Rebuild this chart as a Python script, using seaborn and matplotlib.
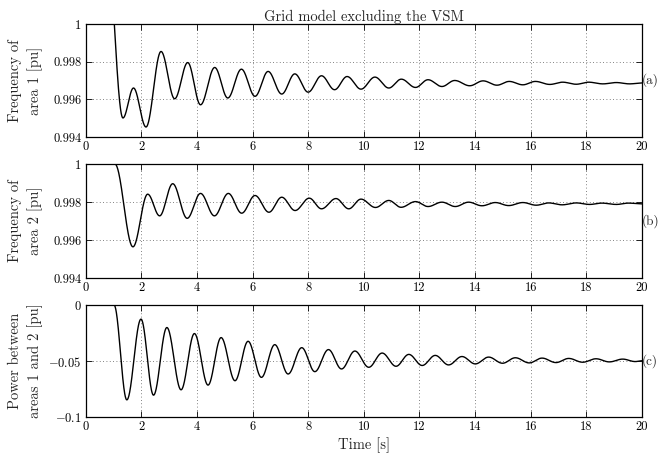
import numpy as np
import pandas as pd
import matplotlib
matplotlib.use("Agg")
import matplotlib.pyplot as plt
import seaborn as sns

# Turning points (time [s], value) of each trace
t_a = [0, 1.03, 1.34, 1.72, 2.17, 2.71, 3.20, 3.67, 4.13, 4.64, 5.11, 5.60,
       6.09, 6.56, 7.05, 7.52, 8.00, 8.48, 8.95, 9.40, 9.90, 10.40,
       10.90, 11.35, 11.86, 12.31, 12.81, 13.27, 13.81, 14.29, 14.79, 15.23,
       15.72, 16.17, 16.69, 17.15, 17.64, 18.08, 18.60, 19.08, 19.56, 20.0]
f_a = [1.0, 1.0, 0.99501, 0.99660, 0.99453, 0.99854, 0.99603, 0.99795, 0.99571, 0.99769, 0.99607, 0.99760,
       0.99616, 0.99748, 0.99628, 0.99735, 0.99638, 0.99725, 0.99651, 0.99721, 0.99654, 0.99718,
       0.99660, 0.99707, 0.99663, 0.99704, 0.99668, 0.99700, 0.99672, 0.99698, 0.99675, 0.99695,
       0.99677, 0.99695, 0.99679, 0.99691, 0.99680, 0.99691, 0.99682, 0.99689, 0.99682, 0.99687]

t_b = [0, 1.05, 1.70, 2.23, 2.66, 3.13, 3.65, 4.13, 4.63, 5.13, 5.61, 6.09,
       6.59, 7.05, 7.53, 8.04, 8.48, 9.00, 9.46, 9.90, 10.42, 10.90,
       11.34, 11.86, 12.31, 12.81, 13.29, 13.77, 14.25, 14.73, 15.21, 15.72,
       16.20, 16.65, 17.13, 17.64, 18.12, 18.56, 19.08, 19.52, 20.0]
f_b = [1.0, 1.0, 0.99564, 0.99841, 0.99727, 0.99896, 0.99714, 0.99845, 0.99727, 0.99845, 0.99741, 0.99834,
       0.99746, 0.99825, 0.99755, 0.99820, 0.99764, 0.99818, 0.99764, 0.99815, 0.99771, 0.99808,
       0.99772, 0.99802, 0.99776, 0.99799, 0.99776, 0.99799, 0.99780, 0.99797, 0.99781, 0.99797,
       0.99783, 0.99795, 0.99785, 0.99795, 0.99787, 0.99794, 0.99787, 0.99794, 0.99790]

t_c = [0, 1.02, 1.48, 1.99, 2.44, 2.92, 3.43, 3.91, 4.40, 4.87, 5.37, 5.84,
       6.32, 6.80, 7.28, 7.77, 8.24, 8.73, 9.20, 9.68, 10.18, 10.66,
       11.16, 11.62, 12.10, 12.57, 13.05, 13.53, 14.01, 14.49, 14.99, 15.45,
       15.95, 16.41, 16.91, 17.37, 17.87, 18.35, 18.83, 19.31, 19.76, 20.0]
p_c = [0.0, 0.0, -0.0847, -0.0126, -0.0805, -0.0201, -0.0757, -0.0255, -0.0715, -0.0291, -0.0676, -0.0324,
       -0.0646, -0.0354, -0.0616, -0.0381, -0.0595, -0.0398, -0.0571, -0.0411, -0.0556, -0.0429,
       -0.0547, -0.0441, -0.0540, -0.0450, -0.0535, -0.0460, -0.0526, -0.0465, -0.0520, -0.0471,
       -0.0517, -0.0474, -0.0514, -0.0477, -0.0511, -0.0480, -0.0508, -0.0483, -0.0505, -0.0498]

x_ticks = [0, 2, 4, 6, 8, 10, 12, 14, 16, 18, 20]
yticks_a = [0.994, 0.996, 0.998, 1.0]
ylabels_a = ["0.994", "0.996", "0.998", "1"]
yticks_b = [0.994, 0.996, 0.998, 1.0]
ylabels_b = ["0.994", "0.996", "0.998", "1"]
yticks_c = [-0.1, -0.05, 0.0]
ylabels_c = [r"$-0.1$", r"$-0.05$", r"$0$"]

title = "Grid model excluding the VSM"
ylab_a = "Frequency of\narea 1 [pu]"
ylab_b = "Frequency of\narea 2 [pu]"
ylab_c = "Power between\nareas 1 and 2 [pu]"
xlab = "Time [s]"
tags = ["(a)", "(b)", "(c)"]

TICK_FS = 9
LABEL_FS = 10.5
TAG_FS = 9.5


def swing(t_pts, y_pts, steep_first=False, n=60):
    """Smooth swing between successive turning points (zero slope at each)."""
    ts, ys = [], []
    for i in range(len(t_pts) - 1):
        t0, t1 = t_pts[i], t_pts[i + 1]
        y0, y1 = y_pts[i], y_pts[i + 1]
        s = np.linspace(0, 1, n, endpoint=False)
        if steep_first and i == 1:
            shape = np.sin(0.5 * np.pi * s)
        else:
            shape = 0.5 * (1 - np.cos(np.pi * s))
        ts.append(t0 + (t1 - t0) * s)
        ys.append(y0 + (y1 - y0) * shape)
    ts.append([t_pts[-1]])
    ys.append([y_pts[-1]])
    return pd.DataFrame({"t": np.concatenate(ts), "v": np.concatenate(ys)})


sns.set_style("ticks")
plt.rcParams.update({
    "font.family": ["cmr10", "DejaVu Serif"],
    "mathtext.fontset": "cm",
    "axes.formatter.use_mathtext": True,
    "font.size": TICK_FS,
    "axes.linewidth": 0.9,
    "axes.edgecolor": "black",
})

fig = plt.figure(figsize=(6.59, 4.62), dpi=100)
left, width = 0.1300, 0.8440
ax_a = fig.add_axes([left, 0.7035, width, 0.2446])
ax_b = fig.add_axes([left, 0.3983, width, 0.2468])
ax_c = fig.add_axes([left, 0.0974, width, 0.2424])

panels = [
    (ax_a, swing(t_a, f_a, steep_first=True), yticks_a, ylabels_a, (0.994, 1.0), ylab_a),
    (ax_b, swing(t_b, f_b), yticks_b, ylabels_b, (0.994, 1.0), ylab_b),
    (ax_c, swing(t_c, p_c), yticks_c, ylabels_c, (-0.1, 0.0), ylab_c),
]

for (ax, df, yt, yl, ylim, ylab), tag in zip(panels, tags):
    ax.set_axisbelow(True)
    ax.grid(True, linestyle=(0, (1, 3)), color="0.35", linewidth=0.6)
    sns.lineplot(data=df, x="t", y="v", ax=ax, color="black", linewidth=1.0,
                 estimator=None, sort=False)
    ax.set_xlim(0, 20)
    ax.set_ylim(*ylim)
    ax.set_xticks(x_ticks)
    ax.set_xticklabels([str(v) for v in x_ticks])
    ax.set_yticks(yt)
    ax.set_yticklabels(yl)
    ax.tick_params(direction="in", top=True, right=True, length=4, width=0.6,
                   labelsize=TICK_FS, pad=3, colors="black")
    ax.set_xlabel("")
    ax.set_ylabel(ylab, fontsize=LABEL_FS, linespacing=1.45)
    ax.yaxis.set_label_coords(-0.076, 0.5)
    for sp in ax.spines.values():
        sp.set_visible(True)
        sp.set_linewidth(0.9)
    ax.text(1.0005, 0.5, tag, transform=ax.transAxes, ha="left", va="center",
            fontsize=TAG_FS)

ax_a.set_title(title, fontsize=LABEL_FS, pad=2)
ax_c.set_xlabel(xlab, fontsize=LABEL_FS, labelpad=3)

fig.savefig("out.png", dpi=100)
